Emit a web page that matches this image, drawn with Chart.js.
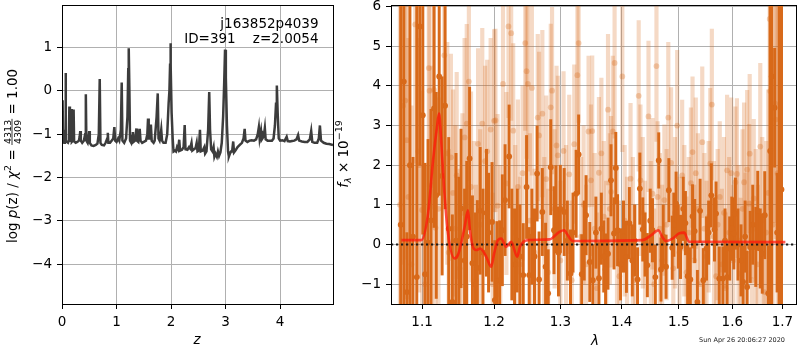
<!DOCTYPE html>
<html>
<head>
<meta charset="utf-8">
<script src="https://cdn.jsdelivr.net/npm/chart.js@4.4.1/dist/chart.umd.min.js"></script>
<style>
  html, body { margin: 0; padding: 0; background: #fff; }
  #wrap { position: relative; width: 800px; height: 350px; }
  #wrap canvas { position: absolute; left: 0; top: 0; }
</style>
</head>
<body>
<div id="wrap">
  <canvas id="pz" width="800" height="350"></canvas>
  <canvas id="spec" width="800" height="350"></canvas>
</div>
<script>
// ---- redshift probability curve ----
const zGrid = [
  0.000, 0.006, 0.010, 0.016, 0.022, 0.030, 0.040, 0.052, 0.060, 0.066, 0.072, 0.090, 0.110, 0.125, 0.135, 0.145,
  0.160, 0.170, 0.180, 0.200, 0.213, 0.222, 0.250, 0.280, 0.310, 0.325, 0.335, 0.345, 0.370, 0.400, 0.425, 0.437,
  0.447, 0.470, 0.490, 0.500, 0.510, 0.540, 0.580, 0.620, 0.650, 0.675, 0.692, 0.705, 0.730, 0.770, 0.800, 0.830,
  0.840, 0.850, 0.880, 0.910, 0.940, 0.960, 0.975, 1.000, 1.030, 1.050, 1.080, 1.095, 1.108, 1.140, 1.175, 1.200,
  1.215, 1.224, 1.235, 1.248, 1.270, 1.290, 1.300, 1.310, 1.340, 1.365, 1.375, 1.400, 1.425, 1.440, 1.470, 1.500,
  1.540, 1.565, 1.578, 1.590, 1.610, 1.630, 1.645, 1.680, 1.700, 1.735, 1.756, 1.770, 1.790, 1.805, 1.820, 1.835,
  1.860, 1.900, 1.930, 1.955, 1.970, 1.982, 1.989, 1.996, 2.010, 2.030, 2.045, 2.070, 2.090, 2.110, 2.130, 2.150,
  2.165, 2.200, 2.230, 2.250, 2.265, 2.300, 2.330, 2.350, 2.375, 2.390, 2.420, 2.450, 2.470, 2.485, 2.510, 2.530,
  2.545, 2.580, 2.610, 2.625, 2.650, 2.680, 2.700, 2.715, 2.735, 2.760, 2.780, 2.795, 2.815, 2.840, 2.860, 2.880,
  2.905, 2.930, 2.955, 2.975, 2.990, 3.005, 3.025, 3.045, 3.060, 3.080, 3.100, 3.120, 3.140, 3.155, 3.180, 3.220,
  3.260, 3.300, 3.330, 3.350, 3.365, 3.400, 3.440, 3.480, 3.520, 3.560, 3.590, 3.610, 3.625, 3.650, 3.665, 3.700,
  3.720, 3.735, 3.770, 3.810, 3.850, 3.880, 3.905, 3.925, 3.940, 3.955, 3.975, 4.000, 4.040, 4.080, 4.120, 4.140,
  4.180, 4.220, 4.260, 4.300, 4.330, 4.350, 4.400, 4.450, 4.500, 4.545, 4.570, 4.590, 4.630, 4.680, 4.710, 4.730,
  4.750, 4.800, 4.850, 4.900, 4.970
];
const logPz = [
  -0.22, -0.25, -1.15, -0.25, -1.18, -1.17, -1.20, -1.15, -0.90, 0.41, -1.15, -1.18, -1.20, -1.15, -0.36, -1.18,
  -1.00, -0.42, -1.18, -1.15, -0.43, -1.17, -1.20, -1.18, -1.15, -1.05, -0.93, -1.15, -1.20, -1.15, -1.00, -0.08,
  -1.15, -1.20, -1.05, -0.93, -1.20, -1.26, -1.27, -1.25, -1.22, -1.00, 0.27, -1.20, -1.25, -1.26, -1.20, -1.10,
  -0.97, -1.20, -1.20, -1.15, -1.10, -0.84, -1.15, -1.18, -1.10, -1.15, -0.90, 0.19, -1.15, -1.20, -1.10, -0.60,
  0.50, 0.98, 0.10, -1.15, -1.20, -1.05, -0.95, -1.18, -1.15, -0.87, -1.15, -1.18, -0.88, -1.15, -1.20, -1.18,
  -1.15, -1.00, -0.64, -1.10, -1.10, -0.78, -1.15, -1.20, -1.15, -0.60, -0.06, -1.10, -1.15, -1.05, -0.90, -1.15,
  -1.20, -1.20, -1.00, -0.30, 0.00, 0.60, 1.10, 0.60, -0.50, -1.10, -1.40, -1.38, -1.40, -1.30, -1.35, -1.13,
  -1.38, -1.36, -1.30, -0.79, -1.35, -1.36, -1.30, -1.33, -1.20, -1.38, -1.35, -1.32, -1.20, -1.40, -1.38, -0.90,
  -1.40, -1.38, -1.30, -1.45, -1.40, -0.90, -0.03, -0.90, -1.35, -1.40, -1.30, -1.52, -1.45, -1.52, -1.40, -1.50,
  -1.42, -1.20, -0.60, 0.20, 0.95, 0.30, -0.80, -1.40, -1.52, -1.45, -1.40, -1.40, -1.17, -1.42, -1.38, -1.30,
  -1.25, -1.20, -1.10, -0.88, -1.15, -1.18, -1.15, -1.14, -1.15, -1.12, -1.00, -0.84, -1.10, -0.92, -1.12, -1.05,
  -0.86, -1.12, -1.15, -1.15, -1.15, -1.10, -0.80, -0.30, 0.12, -0.50, -1.10, -1.15, -1.14, -1.16, -1.06, -1.16,
  -1.17, -1.16, -1.15, -1.12, -1.02, -1.15, -1.17, -1.18, -1.18, -1.12, -0.93, -1.18, -1.20, -1.20, -1.10, -0.80,
  -1.15, -1.20, -1.22, -1.23, -1.25
];
const zTicks = [0, 1, 2, 3, 4];
const pzTicks = [-4, -3, -2, -1, 0, 1];
const zRange = [0, 4.97];
const pzRange = [-4.92, 1.98];

// ---- spectrum: binned (dark) points ----
const lamDark = [
  1.072, 1.076, 1.080, 1.084, 1.088, 1.093, 1.097, 1.101, 1.104, 1.108, 1.112, 1.116, 1.119, 1.123, 1.127, 1.131,
  1.136, 1.141, 1.146, 1.150, 1.153, 1.158, 1.161, 1.165, 1.169, 1.173, 1.176, 1.180, 1.184, 1.189, 1.192, 1.197,
  1.201, 1.204, 1.208, 1.212, 1.216, 1.222, 1.226, 1.230, 1.234, 1.238, 1.243, 1.248, 1.252, 1.256, 1.260, 1.264,
  1.267, 1.272, 1.277, 1.281, 1.285, 1.290, 1.293, 1.297, 1.300, 1.306, 1.311, 1.316, 1.320, 1.325, 1.329, 1.334,
  1.338, 1.341, 1.347, 1.352, 1.357, 1.362, 1.366, 1.370, 1.373, 1.377, 1.382, 1.387, 1.390, 1.393, 1.398, 1.403,
  1.408, 1.413, 1.418, 1.422, 1.427, 1.431, 1.436, 1.440, 1.444, 1.449, 1.453, 1.458, 1.464, 1.468, 1.472, 1.477,
  1.482, 1.488, 1.491, 1.495, 1.499, 1.503, 1.508, 1.512, 1.516, 1.521, 1.525, 1.529, 1.534, 1.539, 1.545, 1.551,
  1.555, 1.560, 1.566, 1.569, 1.575, 1.582, 1.586, 1.590, 1.595, 1.599, 1.603, 1.606, 1.611, 1.617, 1.621, 1.625,
  1.629, 1.635, 1.640, 1.646, 1.650, 1.655, 1.659, 1.664, 1.671, 1.675, 1.678, 1.684, 1.689, 1.693, 1.698
];
const fluxDark = [
  0.50, 4.11, -1.20, 2.00, 0.20, -0.82, 5.50, 3.26, -0.75, 0.05, 0.61, 3.43, 1.24, 4.24, 1.73, 3.50,
  0.40, -1.45, 0.10, -0.30, 0.91, -0.40, 0.20, 2.17, -0.47, -1.00, -0.59, 0.85, -0.20, 0.80, 0.30, 0.57,
  -1.40, -0.92, -0.90, 0.36, 1.12, 2.22, 0.00, -0.50, 0.10, -0.30, -0.77, 1.45, -0.77, 0.20, -0.30, 1.79,
  -0.88, 0.82, -0.56, -1.23, 1.95, 0.36, 0.89, -0.20, 0.90, 0.82, 0.10, -0.73, 0.30, 1.28, 2.27, -0.75,
  0.10, 0.74, -0.44, -0.90, 0.30, -0.85, 0.40, -0.30, -0.63, -0.23, 1.62, 0.28, 1.93, 0.36, -0.50, 0.20,
  -0.31, 0.54, -0.40, 0.10, -0.88, 1.41, 0.38, 0.00, -0.52, 0.60, 0.36, -0.82, 2.12, -0.63, 0.20, -0.56,
  1.37, -0.08, 0.50, 1.03, 0.20, -0.06, 0.90, 0.54, -0.80, -0.88, 0.71, 0.34, -1.45, 0.85, -0.90, -0.10,
  0.30, 1.24, 0.38, 0.78, -0.86, -0.86, 0.10, -0.82, -0.10, 0.40, 0.28, 0.78, 0.00, -0.40, -0.94, 0.20,
  -1.07, -0.06, 0.50, -0.06, 0.85, -0.10, -0.23, 0.74, -1.23, 2.36, 4.24, 3.45, 0.30, -0.90, 1.39
];
const errDark = [
  9.0, 9.0, 1.5, 9.0, 2.0, 9.0, 3.5, 3.0, 2.8, 2.6, 2.8, 3.0, 2.6, 3.0, 2.5, 2.6,
  2.3, 2.2, 2.2, 2.0, 2.0, 1.8, 1.9, 1.8, 1.7, 1.8, 1.7, 1.6, 1.6, 1.6, 1.5, 1.5,
  1.5, 1.5, 1.5, 1.4, 1.4, 1.3, 1.4, 1.4, 1.3, 1.3, 1.3, 1.3, 1.2, 1.2, 1.2, 1.2,
  1.2, 1.1, 1.1, 1.1, 1.2, 1.1, 1.1, 1.1, 1.1, 1.1, 1.0, 1.1, 1.0, 1.1, 1.0, 1.0,
  1.0, 1.0, 1.0, 0.9, 0.9, 0.9, 0.9, 0.9, 0.9, 0.9, 0.9, 0.9, 0.9, 0.9, 0.9, 0.9,
  0.9, 0.9, 0.9, 0.9, 0.8, 0.9, 0.8, 0.8, 0.8, 0.8, 0.8, 0.8, 0.7, 0.8, 0.8, 0.8,
  0.8, 0.8, 0.8, 0.8, 0.8, 0.8, 0.8, 0.8, 0.8, 0.8, 0.8, 0.8, 0.8, 0.8, 0.8, 0.8,
  0.8, 0.8, 0.8, 0.8, 0.8, 0.8, 0.8, 0.8, 0.8, 0.8, 0.9, 0.9, 0.9, 0.9, 0.9, 0.9,
  0.9, 0.9, 1.0, 1.0, 1.0, 1.0, 1.0, 1.1, 1.2, 9.0, 9.0, 1.5, 1.5, 9.0, 9.0
];

// ---- spectrum: unbinned (light) points ----
const lamLight = [
  1.071, 1.075, 1.078, 1.080, 1.082, 1.086, 1.091, 1.095, 1.096, 1.100, 1.104, 1.109, 1.110, 1.113, 1.116, 1.118,
  1.122, 1.130, 1.134, 1.136, 1.139, 1.142, 1.145, 1.147, 1.151, 1.155, 1.158, 1.161, 1.164, 1.167, 1.171, 1.174,
  1.177, 1.180, 1.183, 1.187, 1.190, 1.195, 1.198, 1.200, 1.202, 1.205, 1.209, 1.213, 1.218, 1.221, 1.225, 1.228,
  1.231, 1.235, 1.238, 1.242, 1.246, 1.248, 1.250, 1.253, 1.256, 1.260, 1.265, 1.267, 1.272, 1.275, 1.278, 1.281,
  1.285, 1.287, 1.291, 1.294, 1.296, 1.300, 1.305, 1.309, 1.314, 1.318, 1.322, 1.327, 1.329, 1.333, 1.337, 1.341,
  1.345, 1.349, 1.351, 1.355, 1.359, 1.362, 1.366, 1.370, 1.374, 1.377, 1.380, 1.382, 1.385, 1.388, 1.392, 1.396,
  1.401, 1.405, 1.409, 1.415, 1.419, 1.423, 1.429, 1.432, 1.436, 1.440, 1.446, 1.450, 1.453, 1.456, 1.460, 1.462,
  1.466, 1.470, 1.474, 1.478, 1.481, 1.486, 1.490, 1.493, 1.497, 1.501, 1.506, 1.510, 1.514, 1.518, 1.522, 1.525,
  1.528, 1.531, 1.535, 1.539, 1.543, 1.547, 1.551, 1.555, 1.558, 1.561, 1.565, 1.569, 1.572, 1.576, 1.580, 1.584,
  1.587, 1.590, 1.594, 1.598, 1.602, 1.606, 1.609, 1.612, 1.616, 1.620, 1.623, 1.626, 1.629, 1.633, 1.634, 1.638,
  1.642, 1.646, 1.650, 1.655, 1.659, 1.663, 1.667, 1.671, 1.674, 1.675, 1.680, 1.685, 1.686, 1.690, 1.695
];
const fluxLight = [
  1.00, 3.50, 3.63, 2.63, 1.20, -0.50, 5.55, 2.35, 2.00, 0.87, -1.00, 4.45, 3.88, 1.50, 3.90, 0.42,
  0.90, 4.77, 2.30, -0.20, 2.20, 1.30, 0.40, 1.74, -0.60, 0.80, 2.70, 3.05, 4.11, 1.45, 0.20, -0.90,
  2.54, 0.50, 3.05, 2.10, 2.35, 2.90, -1.00, 3.12, 3.13, 0.98, -0.30, 4.05, 1.54, 5.50, 5.33, 2.87,
  0.30, 1.45, -0.50, 1.80, 5.08, 4.37, 4.05, 0.60, 3.95, -0.20, 3.20, 2.75, 3.30, 0.10, 1.65, -0.70,
  3.46, 3.88, 0.90, 2.50, 2.25, -0.40, 2.36, 0.50, 1.77, -0.90, 2.53, 4.27, 5.08, 0.20, 1.00, -0.50,
  2.85, 1.62, 2.86, 0.40, -1.10, 1.81, 2.30, 0.70, -0.30, 3.40, 0.90, 1.33, 2.85, 4.58, 0.10, -0.80,
  4.24, 0.60, -0.20, 1.66, 0.30, -0.90, 3.75, 1.62, 0.80, -0.30, 3.23, 0.20, 1.28, -1.00, 4.50, 1.20,
  0.40, -0.40, 1.12, 0.50, 3.20, 2.06, -0.60, 0.80, 3.00, -0.20, 1.74, 0.60, -0.70, 0.30, 1.55, 2.33,
  -0.40, 1.80, 0.90, -1.00, 2.58, 0.40, -0.30, 0.70, 2.04, 3.53, 0.20, -0.80, 0.50, 1.20, -0.50, 0.80,
  -1.10, 1.87, 0.30, 1.80, -0.40, 1.57, 1.78, 0.10, -0.73, 0.90, 1.57, -0.20, 1.89, 1.03, 2.29, -0.90,
  1.16, 0.40, -0.50, 2.47, 0.60, -1.20, 0.30, 1.30, 5.69, 3.87, 0.50, 3.55, 3.15, 1.80, -0.50
];
const errLight = [
  9.0, 4.0, 4.0, 4.0, 4.0, 4.0, 3.5, 3.2, 3.2, 3.0, 3.0, 3.0, 3.0, 3.0, 3.0, 2.8,
  2.8, 2.8, 2.8, 2.6, 2.6, 2.6, 2.6, 2.6, 2.5, 2.5, 2.5, 2.5, 2.5, 2.4, 2.4, 2.4,
  2.4, 2.4, 2.4, 2.4, 2.3, 2.3, 2.3, 2.3, 2.3, 2.3, 2.3, 2.3, 2.3, 2.3, 2.2, 2.2,
  2.2, 2.2, 2.2, 2.2, 2.2, 2.2, 2.2, 2.2, 2.2, 2.1, 2.1, 2.1, 2.1, 2.1, 2.1, 2.1,
  2.1, 2.1, 2.0, 2.0, 2.0, 2.0, 2.0, 2.0, 2.0, 2.0, 2.0, 2.0, 2.0, 2.0, 2.0, 2.0,
  1.9, 1.9, 1.9, 1.9, 1.9, 1.9, 1.9, 1.9, 1.9, 1.9, 1.9, 1.9, 1.9, 1.9, 1.9, 1.9,
  1.9, 1.9, 1.9, 1.9, 1.9, 1.9, 1.9, 1.9, 1.9, 1.9, 1.9, 1.9, 1.9, 1.9, 1.9, 1.9,
  1.9, 1.9, 1.9, 1.9, 1.9, 1.9, 1.9, 1.9, 1.9, 1.9, 1.9, 1.9, 1.9, 1.9, 1.9, 1.9,
  1.9, 1.9, 1.9, 1.9, 1.9, 1.9, 1.9, 1.9, 1.9, 1.9, 1.9, 1.9, 1.9, 1.9, 1.9, 1.9,
  1.9, 1.9, 1.9, 1.9, 1.9, 1.9, 1.9, 1.9, 1.9, 2.0, 2.0, 2.0, 2.0, 2.0, 2.0, 2.0,
  2.0, 2.0, 2.0, 2.1, 2.1, 2.2, 2.3, 2.6, 9.0, 3.0, 3.0, 3.0, 3.0, 9.0, 9.0
];

// ---- best-fit template ----
const lamModel = [
  1.073, 1.099, 1.108, 1.1147, 1.120, 1.1228, 1.1251, 1.1295, 1.135, 1.144, 1.149, 1.158, 1.1627, 1.1655, 1.1697,
  1.1745, 1.180, 1.1887, 1.1959, 1.200, 1.2055, 1.2104, 1.2177, 1.225, 1.234, 1.238, 1.2498, 1.283, 1.2985, 1.3064,
  1.310, 1.3195, 1.4356, 1.4502, 1.4635, 1.4705, 1.4766, 1.4885, 1.5005, 1.5096, 1.5187, 1.706
];
const fluxModel = [
  0.11, 0.11, 0.78, 2.12, 2.96, 3.30, 2.80, 1.45, 0.28, -0.35, -0.25, 0.44, 0.86, 0.36, -0.06,
  -0.14, -0.10, -0.31, -0.56, -0.23, 0.11, 0.15, -0.06, 0.07, -0.31, -0.06, 0.11, 0.13, 0.32, 0.36,
  0.28, 0.09, 0.11, 0.23, 0.36, 0.19, 0.09, 0.15, 0.28, 0.30, 0.07, 0.06
];
const lamTicks = [1.1, 1.2, 1.3, 1.4, 1.5, 1.6, 1.7];
const fluxTicks = [-1, 0, 1, 2, 3, 4, 5, 6];
const lamRange = [1.0595, 1.728];
const fluxRange = [-1.5, 6.04];
const zeroLevel = 0;

// ---- shared styling ----
const FAMILY = 'DejaVu Sans';
const FS = 13.5;
const ORANGE = 'rgb(216,105,25)';
const ORANGE_LIGHT = 'rgba(216,105,25,0.25)';
const ORANGE_LIGHT_DOT = 'rgba(216,105,25,0.3)';
const minus = v => String(v).replace('-', '\u2212');

function axisStyle(extra) {
  return Object.assign({
    border: { display: false },
    grid: { color: '#b0b0b0', lineWidth: 1, tickColor: '#000', tickLength: 5, drawTicks: true },
    ticks: { color: '#000', font: { family: FAMILY, size: FS }, padding: 5, autoSkip: false, maxRotation: 0 }
  }, extra);
}

const framePlugin = {
  id: 'frame',
  afterDraw(chart) {
    const { ctx, chartArea: a } = chart;
    ctx.save();
    ctx.strokeStyle = '#000';
    ctx.lineWidth = 1;
    ctx.strokeRect(a.left + 0.5, a.top + 0.5, a.right - a.left - 1 + (a.right < 799 ? 1 : 0), a.bottom - a.top);
    ctx.restore();
  }
};

// draws a run of text pieces (with sub/superscripts and a stacked fraction) centred on (x, y)
function richText(ctx, segs, x, y, rotation) {
  ctx.save();
  ctx.translate(x, y);
  if (rotation) ctx.rotate(rotation);
  let total = 0;
  for (const s of segs) {
    ctx.font = s.font;
    s.w = s.frac ? Math.max(ctx.measureText(s.frac[0]).width, ctx.measureText(s.frac[1]).width) + 2
                 : ctx.measureText(s.t).width;
    total += s.w;
  }
  let cx = -total / 2;
  ctx.fillStyle = '#000';
  ctx.textBaseline = 'alphabetic';
  for (const s of segs) {
    ctx.font = s.font;
    if (s.frac) {
      ctx.textAlign = 'center';
      ctx.fillText(s.frac[0], cx + s.w / 2, -6);
      ctx.fillText(s.frac[1], cx + s.w / 2, 4);
      ctx.fillRect(cx, -4.9, s.w, 0.8);
      ctx.textAlign = 'left';
    } else {
      ctx.textAlign = 'left';
      ctx.fillText(s.t, cx, s.dy || 0);
    }
    cx += s.w;
  }
  ctx.restore();
}

const pzText = {
  id: 'pzText',
  afterDraw(chart) {
    const ctx = chart.ctx;
    const n = `${FS}px ${FAMILY}`, it = `italic ${FS}px ${FAMILY}`, sm = `9.5px ${FAMILY}`;
    richText(ctx, [
      { t: 'log ', font: n }, { t: 'p', font: it }, { t: '(z) / ', font: n },
      { t: '\u03c7', font: it }, { t: '2', font: sm, dy: -5.5 }, { t: ' = ', font: n },
      { frac: ['4313', '4309'], font: sm }, { t: ' = 1.00', font: n }
    ], 16.5, 156, -Math.PI / 2);
    ctx.save();
    ctx.fillStyle = '#000';
    ctx.font = it;
    ctx.textAlign = 'center';
    ctx.textBaseline = 'alphabetic';
    ctx.fillText('z', 197, 344);
    ctx.font = n;
    ctx.textAlign = 'right';
    ctx.fillText('j163852p4039', 318.5, 27.5);
    ctx.fillText('ID=391    z=2.0054', 318.5, 42.5);
    ctx.restore();
  }
};

const specText = {
  id: 'specText',
  afterDraw(chart) {
    const ctx = chart.ctx;
    const n = `${FS}px ${FAMILY}`, it = `italic ${FS}px ${FAMILY}`;
    richText(ctx, [
      { t: 'f', font: it }, { t: '\u03bb', font: `italic 9.5px ${FAMILY}`, dy: 3 },
      { t: ' \u00d7 10', font: n }, { t: '\u221219', font: `9.5px ${FAMILY}`, dy: -6 }
    ], 347.5, 154, -Math.PI / 2);
    ctx.save();
    ctx.fillStyle = '#000';
    ctx.font = it;
    ctx.textAlign = 'center';
    ctx.textBaseline = 'alphabetic';
    ctx.fillText('\u03bb', 595, 345);
    ctx.font = `6.5px ${FAMILY}`;
    ctx.fillStyle = '#222';
    ctx.fillText('Sun Apr 26 20:06:27 2020', 742, 342);
    ctx.restore();
  }
};

const common = {
  responsive: false,
  animation: false,
  events: [],
  plugins: { legend: { display: false }, tooltip: { enabled: false } }
};

// ---- left panel: log p(z) ----
new Chart(document.getElementById('pz'), {
  type: 'scatter',
  data: {
    datasets: [{
      data: zGrid.map((z, i) => ({ x: z, y: logPz[i] })),
      showLine: true,
      borderColor: '#3c3c3c',
      borderWidth: 2.5,
      pointRadius: 0,
      tension: 0
    }]
  },
  options: Object.assign({}, common, {
    layout: { padding: { left: 0, top: 5, right: 467, bottom: 0 } },
    scales: {
      x: axisStyle({
        type: 'linear', min: zRange[0], max: zRange[1],
        afterBuildTicks: s => { s.ticks = zTicks.map(v => ({ value: v })); },
        afterFit: s => { s.height = 46; s.paddingLeft = 0; s.paddingRight = 0; },
        ticks: { color: '#000', font: { family: FAMILY, size: FS }, padding: 5, autoSkip: false, maxRotation: 0, callback: v => minus(v) }
      }),
      y: axisStyle({
        type: 'linear', min: pzRange[0], max: pzRange[1],
        afterBuildTicks: s => { s.ticks = pzTicks.map(v => ({ value: v })); },
        afterFit: s => { s.width = 62; s.paddingTop = 0; s.paddingBottom = 0; },
        ticks: { color: '#000', font: { family: FAMILY, size: FS }, padding: 5, autoSkip: false, callback: v => minus(v) }
      })
    }
  }),
  plugins: [framePlugin, pzText]
});

// ---- right panel: spectrum ----
const barsOf = (lam, f, e) => lam.map((l, i) => ({ x: l, y: [f[i] - e[i], f[i] + e[i]] }));
const ptsOf = (lam, f) => lam.map((l, i) => ({ x: l, y: f[i] }));

new Chart(document.getElementById('spec'), {
  type: 'scatter',
  data: {
    datasets: [
      { type: 'line', order: 0, data: ptsOf(lamModel, fluxModel), borderColor: 'rgba(255,20,10,0.72)',
        borderWidth: 2.6, pointRadius: 0, cubicInterpolationMode: 'monotone' },
      { type: 'line', order: 1, data: [{ x: lamRange[0], y: zeroLevel }, { x: lamRange[1], y: zeroLevel }],
        borderColor: '#1a1a1a', borderWidth: 2, borderDash: [2.2, 2.8], pointRadius: 0 },
      { type: 'scatter', order: 2, data: ptsOf(lamDark, fluxDark), backgroundColor: ORANGE,
        borderWidth: 0, pointRadius: 2.9 },
      { type: 'bar', order: 3, data: barsOf(lamDark, fluxDark, errDark), backgroundColor: ORANGE,
        barThickness: 2.3, grouped: false, borderWidth: 0 },
      { type: 'scatter', order: 4, data: ptsOf(lamLight, fluxLight), backgroundColor: ORANGE_LIGHT_DOT,
        borderWidth: 0, pointRadius: 2.9 },
      { type: 'bar', order: 5, data: barsOf(lamLight, fluxLight, errLight), backgroundColor: ORANGE_LIGHT,
        barThickness: 3.5, grouped: false, borderWidth: 0 }
    ]
  },
  options: Object.assign({}, common, {
    layout: { padding: { left: 0, top: 5, right: 1, bottom: 0 } },
    scales: {
      x: axisStyle({
        type: 'logarithmic', min: lamRange[0], max: lamRange[1], offset: false,
        afterBuildTicks: s => { s.ticks = lamTicks.map(v => ({ value: v })); },
        afterFit: s => { s.height = 46; s.paddingLeft = 0; s.paddingRight = 0; },
        grid: { color: '#b0b0b0', lineWidth: 1, tickColor: '#000', tickLength: 5, drawTicks: true, offset: false },
        ticks: { color: '#000', font: { family: FAMILY, size: FS }, padding: 5, autoSkip: false, maxRotation: 0, callback: v => Number(v).toFixed(1) }
      }),
      y: axisStyle({
        type: 'linear', min: fluxRange[0], max: fluxRange[1],
        afterBuildTicks: s => { s.ticks = fluxTicks.map(v => ({ value: v })); },
        afterFit: s => { s.width = 391; s.paddingTop = 0; s.paddingBottom = 0; },
        ticks: { color: '#000', font: { family: FAMILY, size: FS }, padding: 5, autoSkip: false, callback: v => minus(v) }
      })
    }
  }),
  plugins: [framePlugin, specText]
});
</script>
</body>
</html>
